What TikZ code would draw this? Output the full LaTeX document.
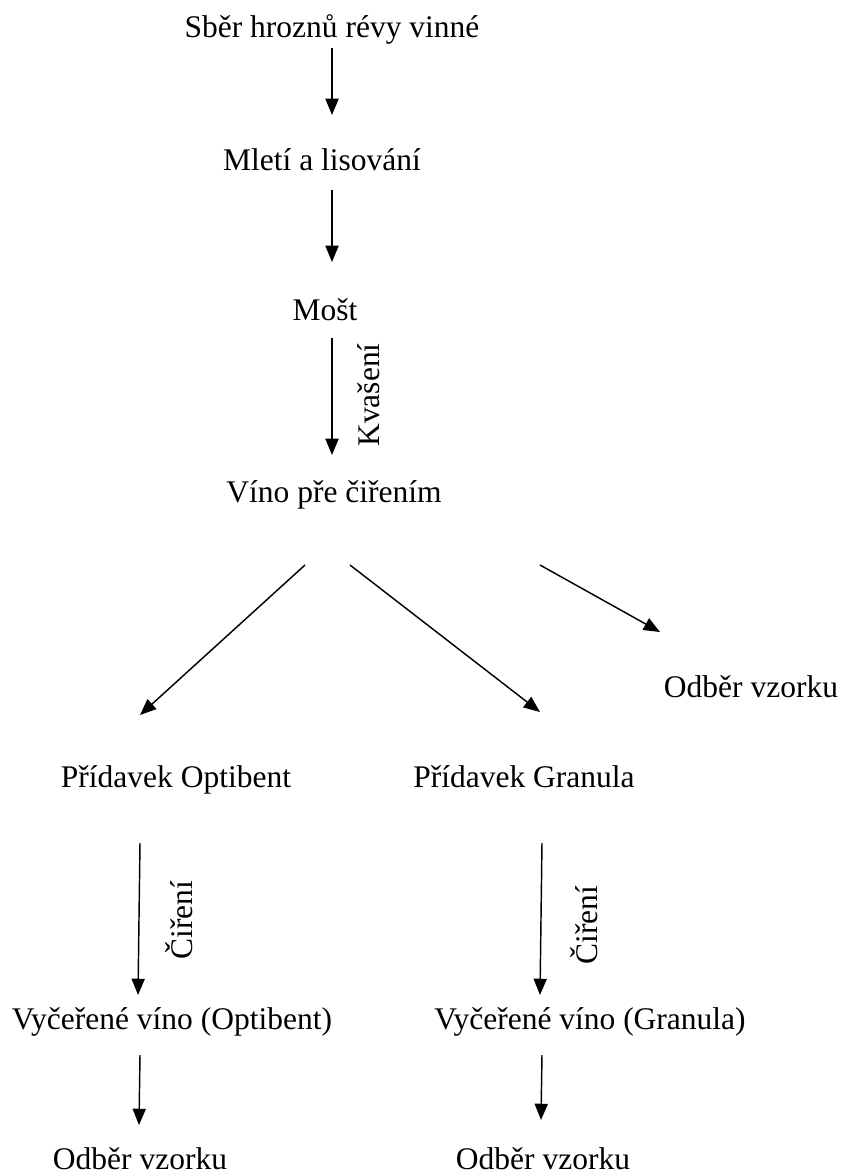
\documentclass[tikz,border=0pt]{standalone}
\usepackage{fontspec}
\setmainfont{Liberation Serif}
\usetikzlibrary{arrows.meta,calc}
\tikzset{
  krok/.style={inner sep=0pt,text height=8.5pt,text depth=2.5pt,font=\fontsize{12}{14}\selectfont},
  popis/.style={krok,rotate=90},
  sipka/.style={-{Triangle[length=6.2pt,width=5pt]},line width=.55pt}
}
\begin{document}
\begin{tikzpicture}[x=0.381pt,y=-0.381pt]
\useasboundingbox (0,0) rectangle (842,1176);
\node[krok] (sber) at (332,30) {Sběr hroznů révy vinné};
\node[krok] (mleti) at (322,163) {Mletí a lisování};
\node[krok] (most) at (325,313) {Mošt};
\node[krok] (vino) at (334,495) {Víno pře čiřením};
\node[krok] (odber) at (751,690) {Odběr vzorku};
\node[krok] (optibent) at (176,780) {Přídavek Optibent};
\node[krok] (granula) at (524,780) {Přídavek Granula};
\node[krok] (vycopt) at (172,1022) {Vyčeřené víno (Optibent)};
\node[krok] (vycgra) at (590,1022) {Vyčeřené víno (Granula)};
\node[krok] (odberopt) at (140,1162) {Odběr vzorku};
\node[krok] (odbergra) at (543,1162) {Odběr vzorku};
\node[popis] (kvaseni) at (372,395) {Kvašení};
\node[popis] (cireniopt) at (185,920) {Čiření};
\node[popis] (cirenigra) at (590,925) {Čiření};
% sipky
\draw[sipka] ($(sber)+(0,18)$) -- ($(mleti)+(10,-48)$);
\draw[sipka] ($(mleti)+(10,27)$) -- ($(most)+(7,-51)$);
\draw[sipka] ($(most)+(7,25)$) -- ($(vino)+(-2,-40)$);
\draw[sipka] ($(vino)+(-29,70)$) -- ($(optibent)+(-36,-65)$);
\draw[sipka] ($(vino)+(16,70)$) -- ($(granula)+(16,-68)$);
\draw[sipka] ($(vino)+(206,70)$) -- ($(odber)+(-91,-58)$);
\draw[sipka] ($(optibent)+(-36,63)$) -- ($(vycopt)+(-34,-27)$);
\draw[sipka] ($(granula)+(18,63)$) -- ($(vycgra)+(-50,-27)$);
\draw[sipka] ($(vycopt)+(-32,33)$) -- ($(odberopt)+(-1,-37)$);
\draw[sipka] ($(vycgra)+(-48,33)$) -- ($(odbergra)+(-2,-42)$);
\end{tikzpicture}
\end{document}
